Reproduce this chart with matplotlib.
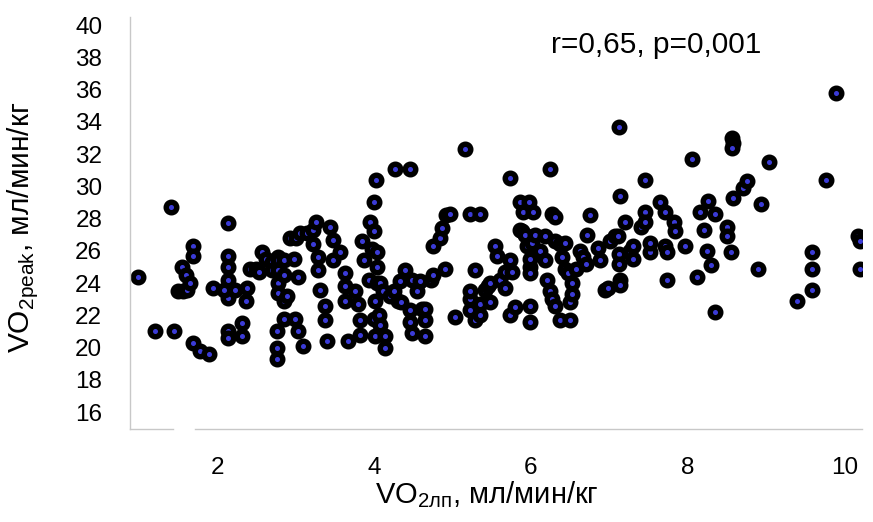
import matplotlib
matplotlib.use("Agg")
import matplotlib.pyplot as plt

plt.rcParams['font.family'] = ['Liberation Sans', 'DejaVu Sans']
plt.rcParams['mathtext.fontset'] = 'custom'
plt.rcParams['mathtext.rm'] = 'Liberation Sans'

# VO2 at threshold (x) vs VO2peak (y)
vo2_lt = [
    0.99, 1.21, 1.45, 1.41, 1.55, 1.50, 1.57, 1.62, 1.60, 1.69, 1.69, 1.66, 1.69, 1.78, 1.90, 1.95,
    2.14, 2.14, 2.14, 2.14, 2.14, 2.14, 2.14, 2.09, 2.23, 2.32, 2.32, 2.37, 2.38, 2.42, 2.50, 2.53,
    2.57, 2.62, 2.70, 2.70, 2.78, 2.78, 2.78, 2.78, 2.78, 2.76, 2.76, 2.76, 2.85, 2.85, 2.85, 2.85,
    2.89, 2.93, 3.01, 2.98, 3.03, 2.99, 3.03, 3.10,
    3.06, 3.15, 3.22, 3.26, 3.22, 3.29, 3.29, 3.31, 3.38, 3.38, 3.40, 3.44, 3.48, 3.48, 3.57, 3.63,
    3.63, 3.63, 3.67, 3.76, 3.80, 3.82, 3.82, 3.85, 3.87, 3.93, 3.95, 3.97, 4.00, 4.00, 4.02,
    4.04, 4.04, 4.04, 4.01, 4.00, 4.01, 4.06, 4.08, 4.08, 4.12, 4.14, 4.14, 4.20, 4.25, 4.30, 4.33,
    4.35, 4.39, 4.27, 4.46, 4.46, 4.46, 4.48, 4.48, 4.55, 4.58, 4.61, 4.65, 4.65, 4.65, 4.73, 4.75,
    4.75, 4.84, 4.87, 4.90, 4.92, 4.97, 5.22, 5.35, 5.16,
    5.03, 5.22, 5.22, 5.22, 5.29, 5.29, 5.35, 5.35, 5.41, 5.45, 5.48, 5.48, 5.54, 5.57, 5.61, 5.67,
    5.67, 5.73, 5.76, 5.73, 5.73, 5.80, 5.86, 5.89, 5.92, 5.95, 5.99, 5.99, 5.99, 5.99, 5.99, 6.01,
    5.86, 5.90, 5.97, 6.03,
    6.05, 6.11, 6.18, 6.21, 6.24, 6.27, 6.24, 6.27, 6.31, 6.18, 6.31, 6.37, 6.43, 6.31, 6.37, 6.50,
    6.40, 6.43, 6.47, 6.50, 6.52, 6.52, 6.58, 6.62, 6.66, 6.72, 6.70, 6.75, 6.85, 6.88, 6.94, 6.98,
    7.01,
    7.07, 7.11, 7.12, 7.12, 7.12, 7.13, 7.14, 7.13, 7.20, 7.26, 7.30, 7.30, 7.40, 7.45, 7.45, 7.45,
    7.52, 7.52, 7.64, 7.71, 7.71, 7.73, 7.73, 7.83, 7.84,
    7.96, 8.05, 8.12, 8.15, 8.20, 8.26, 8.24, 8.30, 8.34, 8.35, 8.50, 8.50, 8.55, 8.56, 8.58, 8.56,
    8.58, 8.70, 8.75, 8.90, 8.93, 9.04,
    9.39, 9.58, 9.58, 9.58, 9.76, 9.89, 10.17, 10.19, 10.19,
]
vo2_peak = [
    24.4, 21.0, 21.0, 28.7, 25.0, 23.5, 23.5, 23.6, 24.5, 26.3, 25.7, 24.0, 20.3, 19.8, 19.6, 23.7,
    27.7, 25.7, 25.0, 24.2, 23.1, 21.0, 20.6, 23.6, 23.6, 21.5, 20.7, 22.9, 23.7, 24.9, 24.9, 24.7,
    25.9, 25.5, 25.3, 24.8, 25.6, 25.4, 24.8, 24.0, 23.4, 21.0, 20.0, 19.3, 25.4, 24.5, 22.9, 21.8,
    23.2, 26.8, 26.8, 25.5, 24.4, 21.8, 21.0, 20.1,
    27.1, 27.1, 27.3, 27.8, 26.4, 25.6, 24.8, 23.6, 22.6, 21.7, 20.4, 27.5, 26.7, 25.4, 25.9, 24.6,
    23.8, 22.9, 20.4, 23.5, 22.7, 21.7, 20.8, 26.6, 25.4, 24.2, 27.8, 26.1, 29.0, 27.2, 30.4,
    25.9, 25.0, 24.0, 22.9, 21.8, 20.7, 22.0, 21.4, 24.0, 23.5, 20.7, 20.0, 23.2, 23.5, 22.9, 24.1,
    22.8, 24.8, 31.1, 31.1, 22.3, 21.6, 24.2, 20.9, 23.5, 24.1, 22.4, 21.7, 20.7, 22.4, 24.2, 26.3,
    24.5, 26.8, 27.4, 24.9, 28.2, 28.3, 28.3, 28.3, 32.3,
    21.9, 22.3, 23.0, 23.5, 24.8, 21.7, 22.7, 22.0, 23.6, 23.8, 24.0, 22.8, 26.3, 25.7, 24.2, 24.7,
    23.7, 25.4, 24.7, 22.0, 30.5, 22.5, 27.3, 27.2, 27.0, 26.3, 25.0, 25.5, 24.6, 22.6, 21.6, 26.5,
    29.0, 28.4, 29.0, 28.4,
    27.0, 26.0, 25.4, 24.2, 23.5, 23.0, 31.1, 28.3, 28.1, 26.9, 26.6, 26.4, 26.5, 22.6, 21.7, 21.7,
    25.6, 24.9, 24.6, 22.8, 24.0, 23.3, 24.9, 26.0, 25.6, 27.0, 25.2, 28.2, 26.2, 25.4, 23.6, 23.7,
    26.6,
    26.9, 26.9, 33.7, 25.8, 25.2, 24.2, 23.9, 29.4, 27.8, 26.0, 26.3, 25.5, 27.5, 28.4, 30.4, 27.8,
    25.9, 26.5, 29.0, 28.4, 26.3, 25.9, 24.2, 27.8, 27.2,
    26.3, 31.7, 24.4, 28.4, 27.3, 29.1, 26.0, 25.1, 22.2, 28.3, 27.5, 26.9, 25.9, 33.0, 32.7, 32.4,
    29.3, 29.9, 30.3, 24.9, 28.9, 31.5,
    22.9, 25.9, 24.9, 23.6, 30.4, 35.8, 26.9, 26.6, 24.9,
]
x_ticks = [2, 4, 6, 8, 10]
y_ticks = [16, 18, 20, 22, 24, 26, 28, 30, 32, 34, 36, 38, 40]

fig = plt.figure(figsize=(8.73, 5.22), dpi=100)
ax = fig.add_axes([130 / 873, 1 - 429 / 522, 732 / 873, 412 / 522])

ax.plot(vo2_lt, vo2_peak, linestyle='none', marker='o', markersize=7.6,
        markeredgewidth=3.9, markerfacecolor='#3b3bd6', markeredgecolor='black')

ax.set_xlim(0.89, 10.22)
ax.set_ylim(14.95, 40.5)
ax.set_xticks(x_ticks)
ax.set_yticks(y_ticks)
ax.tick_params(length=0, labelsize=17.5, pad=20)

for side in ['top', 'right', 'bottom']:
    ax.spines[side].set_visible(False)
ax.spines['left'].set_color('#c8c8c8')
ax.spines['left'].set_linewidth(1.0)
# bottom axis line is broken near x=1.5 in the original
for seg in [(0, 0.0587), (0.0888, 1.0)]:
    ax.plot(seg, [0, 0], transform=ax.transAxes, color='#c8c8c8', lw=1.0,
            clip_on=False, zorder=0)

ax.set_xlabel(r'VO$_{\mathregular{2лп}}$, мл/мин/кг', fontsize=21)
ax.set_ylabel(r'VO$_{\mathregular{2peak}}$, мл/мин/кг', fontsize=21.5)
ax.xaxis.set_label_coords(0.488, -0.123)
ax.yaxis.set_label_coords(-0.123, 0.49)

ax.text(0.719, 0.932, 'r=0,65, p=0,001', transform=ax.transAxes,
        ha='center', va='center', fontsize=21.5)

fig.savefig('out.png', dpi=100)
